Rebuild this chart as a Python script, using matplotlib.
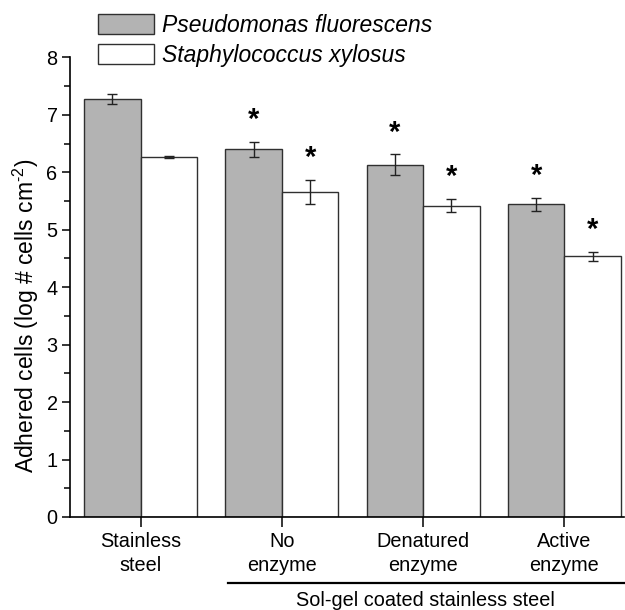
import numpy as np
import matplotlib
matplotlib.use("Agg")
import matplotlib.pyplot as plt
import matplotlib.transforms as mtransforms

plt.rcParams["font.family"] = ["Liberation Sans", "DejaVu Sans"]
plt.rcParams["mathtext.fontset"] = "custom"
plt.rcParams["mathtext.rm"] = "Liberation Sans"

# Données
categories = ["Stainless\nsteel", "No\nenzyme", "Denatured\nenzyme", "Active\nenzyme"]
series_names = ["Pseudomonas fluorescens", "Staphylococcus xylosus"]
pseudo_mean = [7.27, 6.40, 6.13, 5.44]
pseudo_err = [0.09, 0.13, 0.18, 0.12]
staph_mean = [6.27, 5.66, 5.42, 4.54]
staph_err = [0.02, 0.21, 0.12, 0.08]
# différence significative (astérisque)
pseudo_sig = [False, True, True, True]
staph_sig = [False, True, True, True]
group_label = "Sol-gel coated stainless steel"


def main():
    fig = plt.figure(figsize=(6.25, 6.1), dpi=100)
    ax = fig.add_axes([0.112, 0.1525, 0.886, 0.7535])

    x = np.arange(len(categories))
    w = 0.4
    err_kw = dict(ecolor="#222222", elinewidth=1.0, capsize=3.5, capthick=1.0)

    b1 = ax.bar(x - w / 2, pseudo_mean, w, yerr=pseudo_err, color="#b3b3b3",
                edgecolor="#303030", linewidth=1.0, error_kw=err_kw,
                label=series_names[0])
    b2 = ax.bar(x + w / 2, staph_mean, w, yerr=staph_err, color="white",
                edgecolor="#303030", linewidth=1.0, error_kw=err_kw,
                label=series_names[1])

    # astérisques
    for xi, m, e, s in zip(x - w / 2, pseudo_mean, pseudo_err, pseudo_sig):
        if s:
            ax.text(xi, m + e + 0.13, "*", ha="center", va="bottom",
                    fontsize=21, fontweight="bold")
    for xi, m, e, s in zip(x + w / 2, staph_mean, staph_err, staph_sig):
        if s:
            ax.text(xi, m + e + 0.13, "*", ha="center", va="bottom",
                    fontsize=21, fontweight="bold")

    ax.set_xlim(-0.5, 3.42)
    ax.set_ylim(0, 8)
    ax.set_xticks(x)
    ax.set_xticklabels(categories, fontsize=14.3, linespacing=1.3)
    ax.set_yticks(np.arange(0, 9, 1))
    ax.set_yticks(np.arange(0.5, 8, 1), minor=True)
    ax.tick_params(axis="y", which="major", length=6, width=1.1, labelsize=14.3, pad=3)
    ax.tick_params(axis="y", which="minor", length=4, width=1.1)
    ax.tick_params(axis="x", which="major", length=7, width=1.1, pad=4)
    for side in ["top", "right"]:
        ax.spines[side].set_visible(False)
    for side in ["left", "bottom"]:
        ax.spines[side].set_linewidth(1.2)

    ax.set_ylabel(r"Adhered cells (log # cells cm$^{\text{-2}}$)", fontsize=16.5)
    ax.yaxis.set_label_coords(-0.052, 0.437)

    # trait + texte sous les trois derniers groupes
    trans = mtransforms.blended_transform_factory(ax.transData, ax.transAxes)
    ax.plot([0.616, 3.42], [-0.1436, -0.1436], color="black", lw=1.6,
            transform=trans, clip_on=False)
    ax.text(2.017, -0.162, group_label, transform=trans, ha="center",
            va="top", fontsize=14.3)

    fig.legend(handles=[b1, b2], loc="upper left",
               bbox_to_anchor=(98 / 625, 1 - 14 / 610), frameon=False,
               prop={"style": "italic", "size": 16.5}, handlelength=2.45,
               handleheight=0.92, handletextpad=0.35, labelspacing=0.3,
               borderpad=0, borderaxespad=0)

    fig.savefig("out.png", dpi=100)
    plt.close(fig)


if __name__ == "__main__":
    main()
